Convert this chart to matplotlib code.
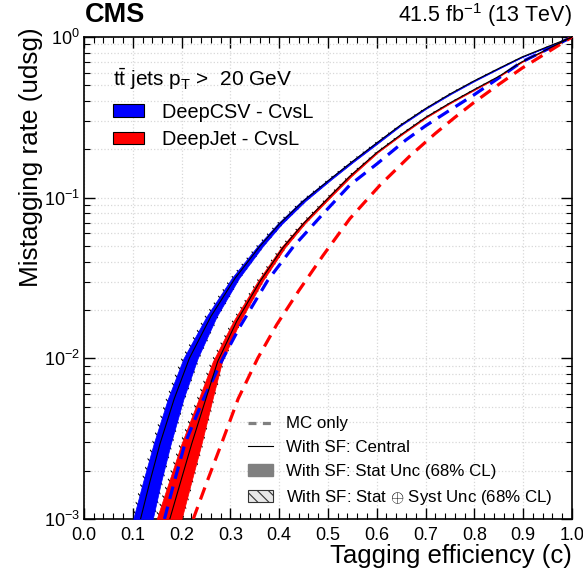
import numpy as np
import matplotlib
matplotlib.use("Agg")
import matplotlib.pyplot as plt
from matplotlib.lines import Line2D
from matplotlib.patches import Patch
from matplotlib.ticker import MultipleLocator, LogLocator, NullFormatter

plt.rcParams['font.family'] = ['Liberation Sans', 'DejaVu Sans']
plt.rcParams['mathtext.fontset'] = 'custom'
plt.rcParams['mathtext.rm'] = 'Liberation Sans'
plt.rcParams['mathtext.it'] = 'Liberation Sans:italic'
plt.rcParams['mathtext.bf'] = 'Liberation Sans:bold'
plt.rcParams['hatch.linewidth'] = 0.8

# -----------------------------
# ROC curves: c efficiency vs light mistag rate
# -----------------------------
# DeepCSV CvsL, with SF (central)
csv_sf_eff = [0.116, 0.135, 0.156, 0.185, 0.216, 0.26, 0.31, 0.361, 0.40, 0.45, 0.504,
              0.548, 0.60, 0.648, 0.70, 0.75, 0.798, 0.85, 0.897, 0.95, 1.0]
csv_sf_rate = [0.001, 0.0017, 0.00295, 0.0056, 0.01, 0.0182, 0.0316, 0.0501, 0.0684, 0.0955, 0.130,
               0.166, 0.219, 0.282, 0.359, 0.442, 0.531, 0.638, 0.750, 0.871, 1.0]
# stat unc. on the efficiency (down / up)
csv_stat_dn = [0.015, 0.014, 0.013, 0.013, 0.012, 0.009, 0.007, 0.005, 0.004, 0.004, 0.003,
               0.003, 0.003, 0.002, 0.002, 0.002, 0.002, 0.0015, 0.001, 0.001, 0.0]
csv_stat_up = [0.025, 0.023, 0.022, 0.019, 0.017, 0.012, 0.008, 0.006, 0.005, 0.004, 0.003,
               0.003, 0.003, 0.002, 0.002, 0.002, 0.002, 0.0015, 0.001, 0.001, 0.0]
# stat + syst
csv_tot_dn = [0.019, 0.018, 0.017, 0.017, 0.016, 0.013, 0.010, 0.008, 0.007, 0.006, 0.005,
              0.005, 0.005, 0.004, 0.004, 0.004, 0.003, 0.003, 0.002, 0.002, 0.0]
csv_tot_up = [0.029, 0.027, 0.026, 0.023, 0.021, 0.016, 0.011, 0.009, 0.008, 0.007, 0.005,
              0.005, 0.005, 0.004, 0.004, 0.004, 0.003, 0.003, 0.002, 0.002, 0.0]

# DeepCSV CvsL, MC only
csv_mc_eff = [0.165, 0.185, 0.207, 0.245, 0.285, 0.32, 0.377, 0.429, 0.49, 0.545,
              0.60, 0.66, 0.70, 0.75, 0.798, 0.85, 0.897, 0.95, 1.0]
csv_mc_rate = [0.001, 0.0017, 0.00295, 0.0056, 0.01, 0.0158, 0.0307, 0.0495, 0.0794, 0.120,
               0.162, 0.229, 0.280, 0.351, 0.434, 0.556, 0.700, 0.841, 1.0]

# DeepJet CvsL, with SF (central)
jet_sf_eff = [0.176, 0.198, 0.221, 0.248, 0.274, 0.313, 0.361, 0.408, 0.45, 0.504,
              0.545, 0.60, 0.648, 0.70, 0.75, 0.798, 0.85, 0.897, 0.95, 1.0]
jet_sf_rate = [0.001, 0.0017, 0.00295, 0.00537, 0.00955, 0.0170, 0.0302, 0.0490, 0.0692, 0.102,
               0.136, 0.191, 0.245, 0.316, 0.389, 0.468, 0.569, 0.700, 0.841, 1.0]
jet_stat_dn = [0.027, 0.024, 0.021, 0.015, 0.010, 0.007, 0.005, 0.004, 0.003, 0.003,
               0.003, 0.002, 0.002, 0.002, 0.002, 0.002, 0.0015, 0.001, 0.001, 0.0]
jet_stat_up = [0.024, 0.022, 0.020, 0.014, 0.009, 0.007, 0.005, 0.004, 0.003, 0.003,
               0.003, 0.002, 0.002, 0.002, 0.002, 0.002, 0.0015, 0.001, 0.001, 0.0]
jet_tot_dn = [0.031, 0.028, 0.025, 0.019, 0.014, 0.010, 0.008, 0.007, 0.006, 0.005,
              0.005, 0.004, 0.004, 0.004, 0.003, 0.003, 0.003, 0.002, 0.002, 0.0]
jet_tot_up = [0.028, 0.026, 0.024, 0.018, 0.013, 0.010, 0.008, 0.007, 0.006, 0.005,
              0.005, 0.004, 0.004, 0.004, 0.003, 0.003, 0.003, 0.002, 0.002, 0.0]

# DeepJet CvsL, MC only
jet_mc_eff = [0.224, 0.252, 0.282, 0.316, 0.356, 0.395, 0.44, 0.49, 0.545, 0.607,
              0.668, 0.72, 0.76, 0.798, 0.85, 0.897, 0.95, 1.0]
jet_mc_rate = [0.001, 0.0017, 0.00295, 0.0056, 0.01, 0.0162, 0.0263, 0.0437, 0.0741, 0.120,
               0.182, 0.251, 0.316, 0.389, 0.507, 0.638, 0.804, 1.0]

x_ticks = [0.0, 0.1, 0.2, 0.3, 0.4, 0.5, 0.6, 0.7, 0.8, 0.9, 1.0]

blue = '#0000ff'
red = '#ff0000'

fig = plt.figure(figsize=(5.83, 5.70), dpi=100)
ax = fig.add_axes([0.144, 0.0895, 0.837, 0.8455])
ax.set_yscale('log')


def draw_sf(eff, rate, st_dn, st_up, tot_dn, tot_up, color):
    eff = np.array(eff)
    ax.fill_betweenx(rate, eff - np.array(tot_dn), eff + np.array(tot_up),
                     facecolor='none', edgecolor='black', hatch='\\\\\\',
                     linewidth=0, zorder=2)
    ax.fill_betweenx(rate, eff - np.array(st_dn), eff + np.array(st_up),
                     facecolor=color, edgecolor=color, linewidth=0.5, zorder=3)


draw_sf(csv_sf_eff, csv_sf_rate, csv_stat_dn, csv_stat_up, csv_tot_dn, csv_tot_up, blue)
draw_sf(jet_sf_eff, jet_sf_rate, jet_stat_dn, jet_stat_up, jet_tot_dn, jet_tot_up, red)

# MC-only curves
ax.plot(csv_mc_eff, csv_mc_rate, color=blue, lw=2.3, ls=(0, (4, 2.5)), zorder=4)
ax.plot(jet_mc_eff, jet_mc_rate, color=red, lw=2.3, ls=(0, (4, 2.5)), zorder=4)

# SF central curves
ax.plot(csv_sf_eff, csv_sf_rate, color='black', lw=0.8, zorder=5)
ax.plot(jet_sf_eff, jet_sf_rate, color='black', lw=0.8, zorder=5)

# -----------------------------
# Axes
# -----------------------------
ax.set_xlim(0, 1)
ax.set_ylim(1e-3, 1)
ax.set_xticks(x_ticks)
ax.set_xticklabels(['%.1f' % t for t in x_ticks])
ax.xaxis.set_minor_locator(MultipleLocator(0.02))
ax.yaxis.set_major_locator(LogLocator(base=10))
ax.yaxis.set_minor_locator(LogLocator(base=10, subs=np.arange(2, 10)))
ax.yaxis.set_minor_formatter(NullFormatter())
ax.tick_params(which='both', direction='in', top=True, right=True, labelsize=13)
ax.tick_params(which='major', length=8, width=1)
ax.tick_params(which='minor', length=4.3, width=0.8)
ax.tick_params(axis='x', pad=6)
ax.tick_params(axis='y', pad=3)
for s in ax.spines.values():
    s.set_linewidth(1.2)

ax.grid(True, which='major', color='#d8d8d8', ls=':', lw=0.9)
ax.yaxis.grid(True, which='minor', color='#d8d8d8', ls=':', lw=0.9)
ax.set_axisbelow(True)

ax.set_xlabel('Tagging efficiency (c)', fontsize=18.5, loc='right', labelpad=0)
ax.set_ylabel('Mistagging rate (udsg)', fontsize=18.8, loc='top')
ax.yaxis.set_label_coords(-0.084, 1.02)

fig.text(0.146, 0.962, 'CMS', fontsize=19.5, fontweight='bold', va='baseline')
fig.text(0.981, 0.962, r'41.5 fb$^{-1}$ (13 TeV)', fontsize=15.5, ha='right', va='baseline')

# -----------------------------
# Legends
# -----------------------------
ax.text(0.0594, 0.898, r'$\mathregular{t\bar{t}}$ jets p$_{\mathregular{T}}$ >  20 GeV',
        transform=ax.transAxes, fontsize=15, va='baseline')

tagger_handles = [Patch(facecolor=blue, edgecolor='black', lw=0.8),
                  Patch(facecolor=red, edgecolor='black', lw=0.8)]
leg1 = ax.legend(tagger_handles, ['DeepCSV - CvsL', 'DeepJet - CvsL'],
                 loc='center left', bbox_to_anchor=(0.039, 0.816), frameon=False,
                 borderpad=0, fontsize=14.3, handlelength=1.56,
                 handleheight=0.6, handletextpad=0.9, labelspacing=0.42)
ax.add_artist(leg1)

style_handles = [Line2D([], [], color='#808080', lw=2.3, ls=(0, (2.5, 2))),
                 Line2D([], [], color='black', lw=0.8),
                 Patch(facecolor='#808080', edgecolor='#808080'),
                 Patch(facecolor='#e8e8e8', edgecolor='#333333', hatch='\\\\\\', lw=0.8)]
ax.legend(style_handles, ['MC only', 'With SF: Central', 'With SF: Stat Unc (68% CL)',
                          r'With SF: Stat $\oplus$ Syst Unc (68% CL)'],
          loc='center left', bbox_to_anchor=(0.318, 0.119), frameon=False, borderpad=0,
          fontsize=12.2, handlelength=1.47, handleheight=0.65, handletextpad=0.82,
          labelspacing=0.52)

fig.savefig('out.png', dpi=100)
